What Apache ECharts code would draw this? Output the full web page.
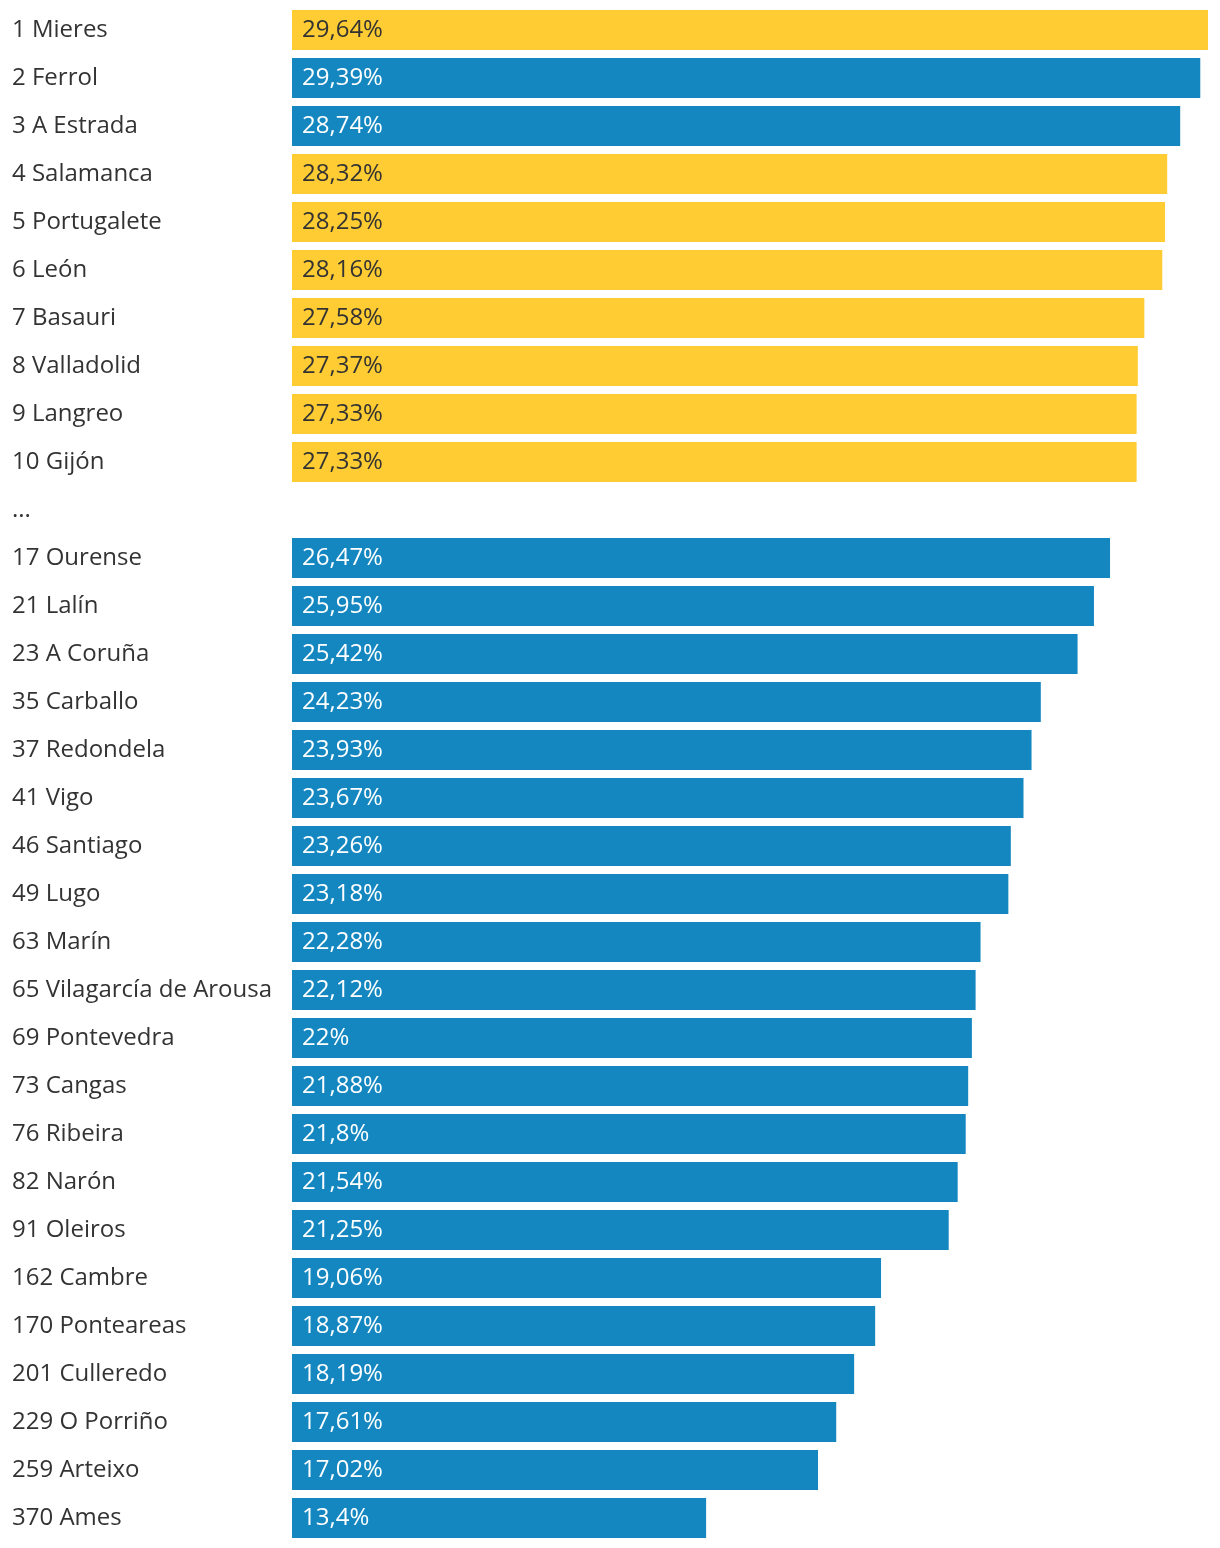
<!DOCTYPE html>
<html>
<head>
<meta charset="utf-8">
<script src="https://cdn.jsdelivr.net/npm/echarts@6/dist/echarts.min.js"></script>
<style>
html,body{margin:0;padding:0;background:#fff;}
#chart{width:1220px;height:1548px;}
</style>
</head>
<body>
<div id="chart"></div>
<script>
var categories = ["1 Mieres","2 Ferrol","3 A Estrada","4 Salamanca","5 Portugalete","6 León","7 Basauri","8 Valladolid","9 Langreo","10 Gijón","...","17 Ourense","21 Lalín","23 A Coruña","35 Carballo","37 Redondela","41 Vigo","46 Santiago","49 Lugo","63 Marín","65 Vilagarcía de Arousa","69 Pontevedra","73 Cangas","76 Ribeira","82 Narón","91 Oleiros","162 Cambre","170 Ponteareas","201 Culleredo","229 O Porriño","259 Arteixo","370 Ames"];
var values = [29.64,29.39,28.74,28.32,28.25,28.16,27.58,27.37,27.33,27.33,null,26.47,25.95,25.42,24.23,23.93,23.67,23.26,23.18,22.28,22.12,22,21.88,21.8,21.54,21.25,19.06,18.87,18.19,17.61,17.02,13.4];
var galician = [false,true,true,false,false,false,false,false,false,false,null,true,true,true,true,true,true,true,true,true,true,true,true,true,true,true,true,true,true,true,true,true];

var YELLOW = '#FFCC33', BLUE = '#1487C1';
var seriesData = values.map(function(v,i){
  if (v === null) return '-';
  var g = galician[i];
  return {
    value: v,
    itemStyle: {color: g ? BLUE : YELLOW},
    label: {color: g ? '#ffffff' : '#333333'}
  };
});

var chart = echarts.init(document.getElementById('chart'));
chart.setOption({
  animation: false,
  grid: {left: 292, right: 12, top: 6, bottom: 6, containLabel: false},
  xAxis: {type: 'value', min: 0, max: 29.64, show: false},
  yAxis: {
    type: 'category', data: categories, inverse: true,
    axisLine: {show: false}, axisTick: {show: false},
    axisLabel: {align: 'left', margin: 280, color: '#333333', fontSize: 24, fontFamily: 'Open Sans', padding: [6, 0, 0, 0]}
  },
  series: [{
    type: 'bar', data: seriesData, barWidth: 40,
    label: {
      show: true, position: 'insideLeft', distance: 10,
      fontSize: 24, fontFamily: 'Open Sans', padding: [6, 0, 0, 0],
      formatter: function(p){ return String(p.value).replace('.', ',') + '%'; }
    }
  }]
});
</script>
</body>
</html>
